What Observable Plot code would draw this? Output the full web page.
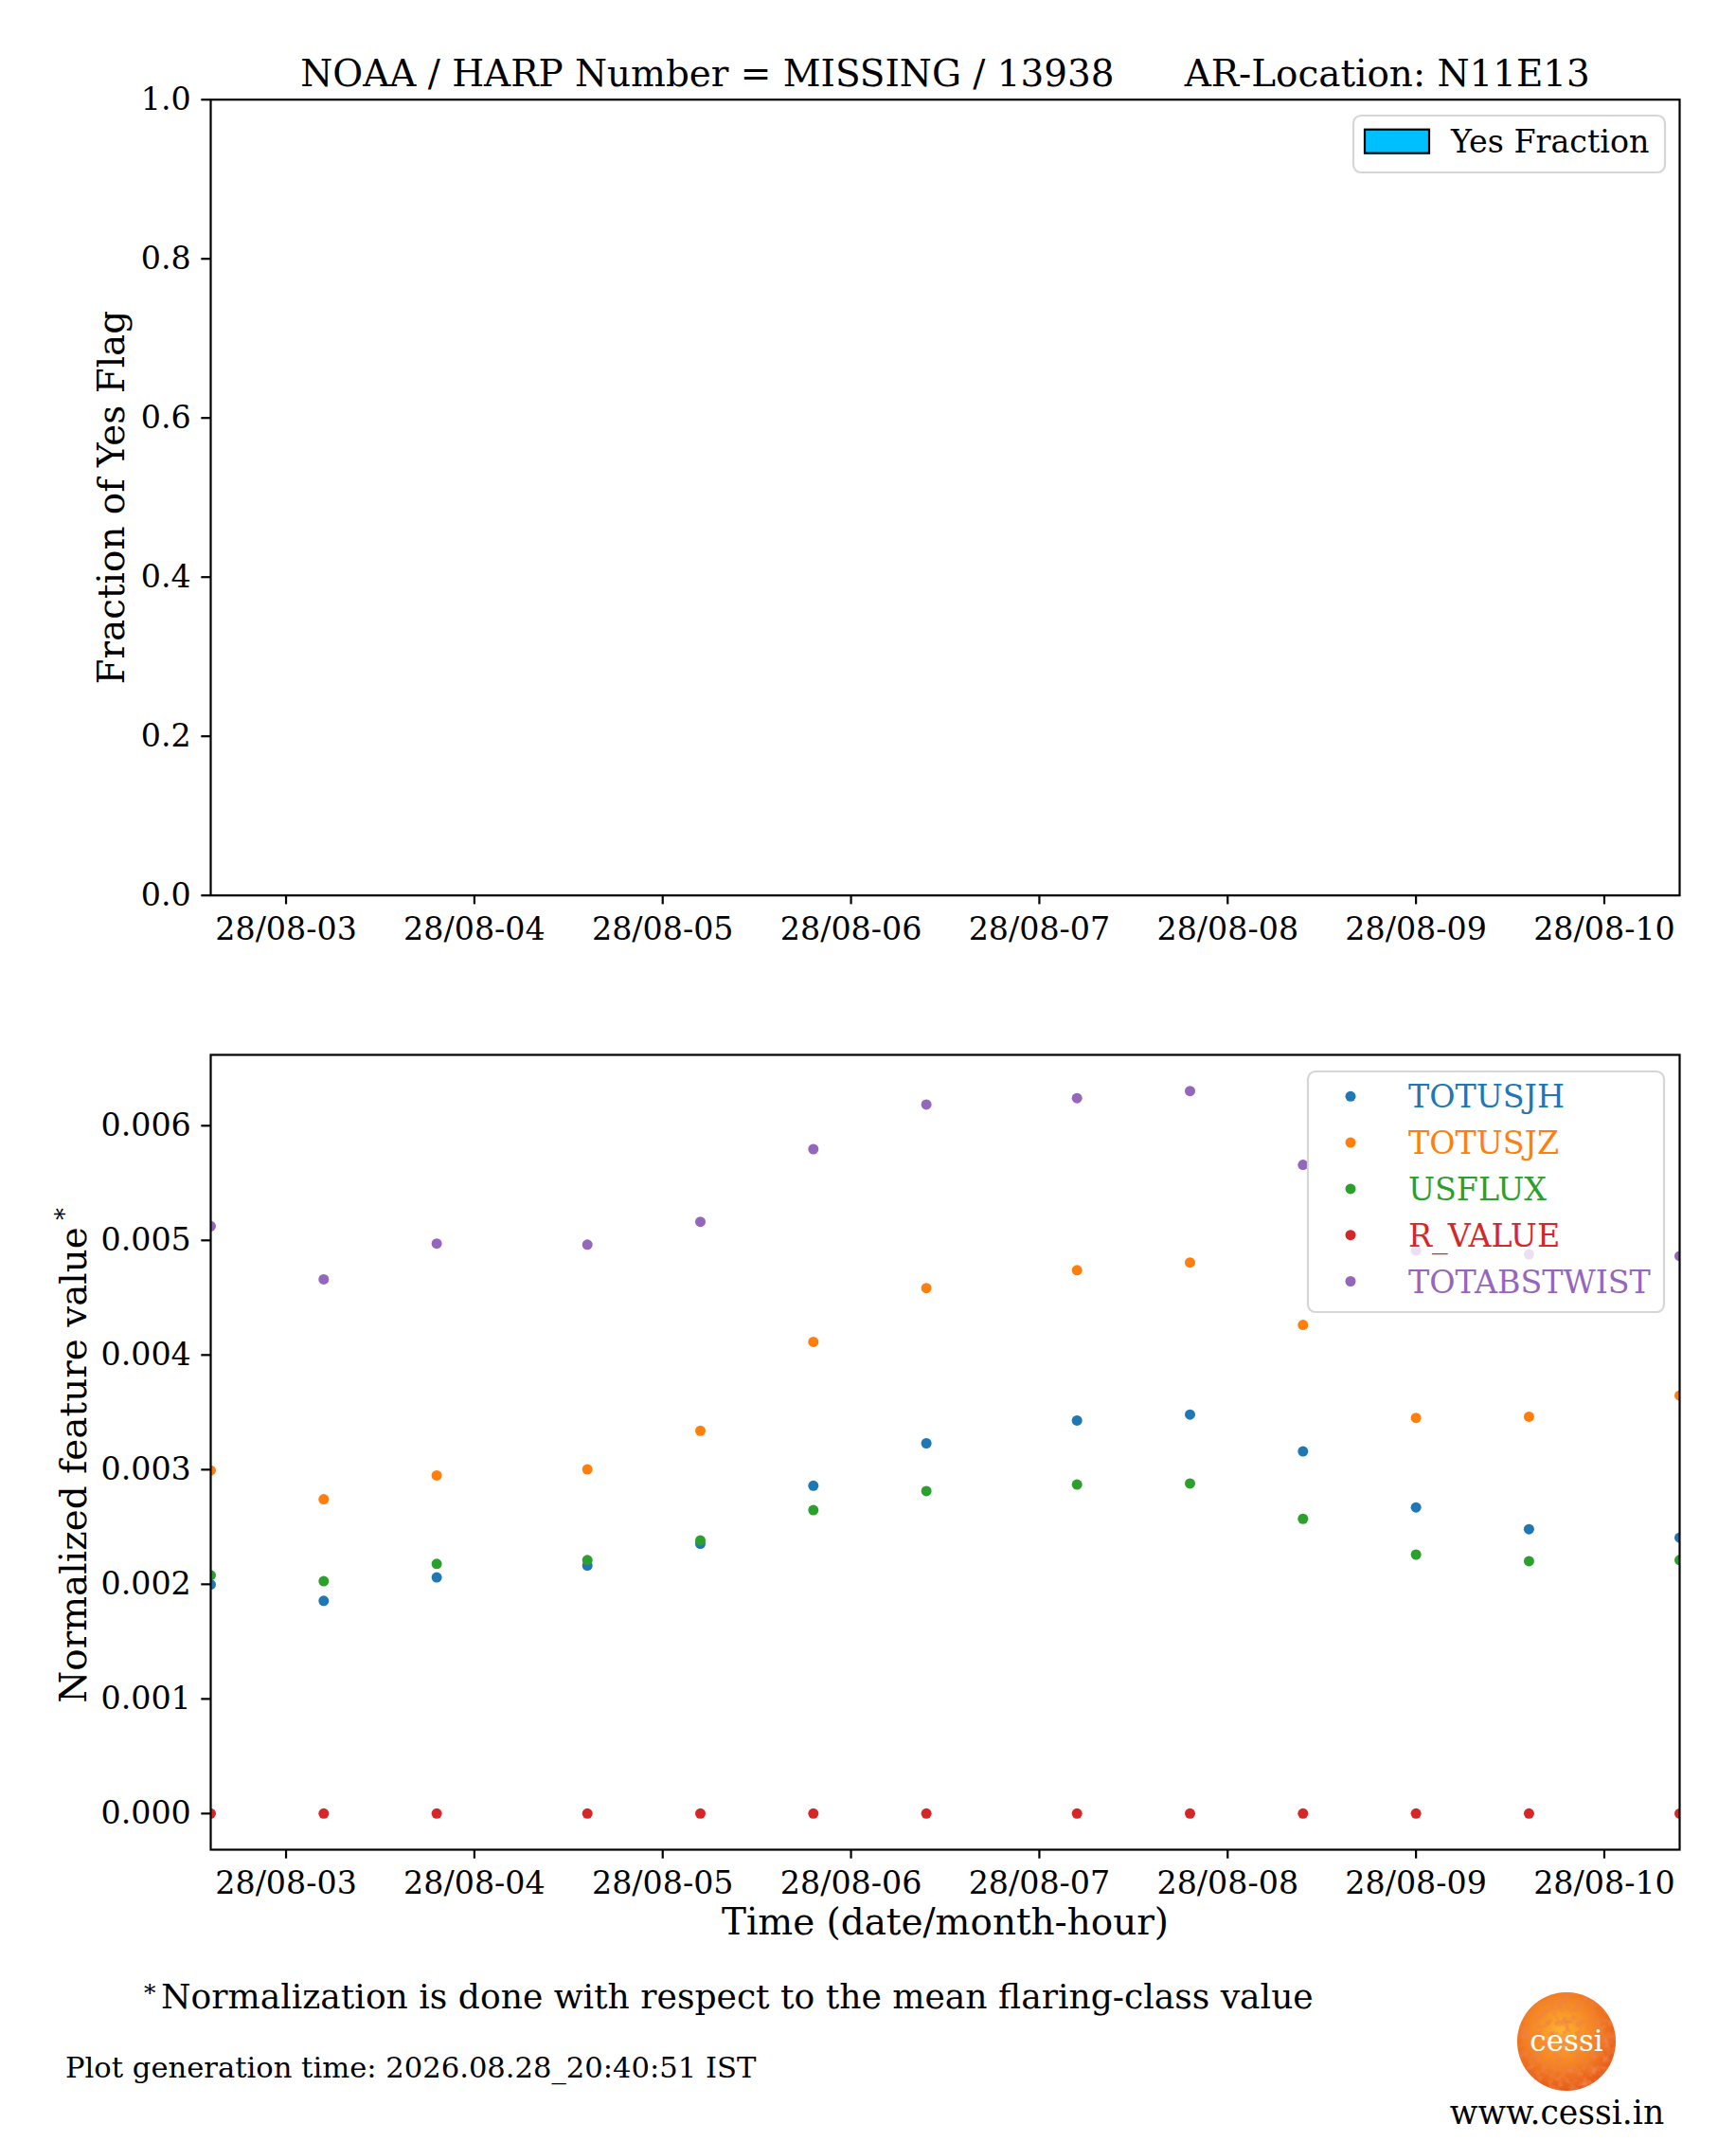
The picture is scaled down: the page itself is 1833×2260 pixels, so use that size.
<!DOCTYPE html>
<html><head><meta charset="utf-8">
<script src="https://cdn.jsdelivr.net/npm/d3@7"></script>
<script src="https://cdn.jsdelivr.net/npm/@observablehq/plot@0.6"></script>
<style>
html,body{margin:0;padding:0;background:#fff;}
#root{position:relative;width:1833px;height:2260px;background:#fff;font-family:"DejaVu Serif",serif;overflow:hidden}
#root > *{position:absolute;}
</style></head><body><div id="root"></div>
<script>
// ---------- data ----------
const times = ["2026-08-28T02:36:00Z","2026-08-28T03:12:00Z","2026-08-28T03:48:00Z","2026-08-28T04:36:00Z",
  "2026-08-28T05:12:00Z","2026-08-28T05:48:00Z","2026-08-28T06:24:00Z","2026-08-28T07:12:00Z",
  "2026-08-28T07:48:00Z","2026-08-28T08:24:00Z","2026-08-28T09:00:00Z","2026-08-28T09:36:00Z","2026-08-28T10:24:00Z"];
const seriesNames = ["TOTUSJH","TOTUSJZ","USFLUX","R_VALUE","TOTABSTWIST"];
const seriesColors = ["#1f77b4","#ff7f0e","#2ca02c","#d62728","#9467bd"];
const TOTUSJH     = [0.001998,0.001856,0.002060,0.002164,0.002354,0.002860,0.003230,0.003429,0.003481,0.003159,0.002671,0.002481,0.002406];
const TOTUSJZ     = [0.002993,0.002742,0.002950,0.003002,0.003339,0.004115,0.004584,0.004740,0.004807,0.004262,0.003452,0.003462,0.003646];
const USFLUX      = [0.002079,0.002027,0.002178,0.002211,0.002382,0.002647,0.002813,0.002870,0.002879,0.002571,0.002259,0.002202,0.002211];
const R_VALUE     = [0,0,0,0,0,0,0,0,0,0,0,0,0];
const TOTABSTWIST = [0.005124,0.004660,0.004972,0.004963,0.005162,0.005796,0.006185,0.006241,0.006303,0.005659,0.004911,0.004878,0.004863];
const yesFraction = []; // no Yes-flag bars in this window
const xTicks = ["2026-08-28T03:00:00Z","2026-08-28T04:00:00Z","2026-08-28T05:00:00Z","2026-08-28T06:00:00Z",
  "2026-08-28T07:00:00Z","2026-08-28T08:00:00Z","2026-08-28T09:00:00Z","2026-08-28T10:00:00Z"];
const yTicksTop = [0,0.2,0.4,0.6,0.8,1.0];
const yTicksBottom = [0,0.001,0.002,0.003,0.004,0.005,0.006];
const titleText = "NOAA / HARP Number = MISSING / 13938\u00a0\u00a0\u00a0\u00a0\u00a0\u00a0AR-Location: N11E13";
const footnoteText = "Normalization is done with respect to the mean flaring-class value";
const genTimeText = "Plot generation time: 2026.08.28_20:40:51 IST";

// ---------- build ----------
const seriesValues = [TOTUSJH, TOTUSJZ, USFLUX, R_VALUE, TOTABSTWIST];
const T = times.map(s => new Date(s));
const rows = [];
seriesNames.forEach((name, k) => seriesValues[k].forEach((v, i) => rows.push({time: T[i], value: v, series: name})));
const xDomain = d3.extent(T);
const ymax = d3.max(rows, d => d.value);
const yDomainBottom = [-0.05 * ymax, 1.05 * ymax];
const tickDates = xTicks.map(s => new Date(s));
const fmtX = d3.utcFormat("%d/%m-%H");
const FONT = "DejaVu Serif";
const TICK = 33.3, LABEL = 38.9;
const root = document.getElementById("root");

function axes(yTicks, yFmt) {
  return [
    Plot.axisX({ticks: tickDates, tickFormat: fmtX, tickSize: 9.7, tickPadding: 13, fontSize: TICK, strokeWidth: 2.2, label: null}),
    Plot.axisY({ticks: yTicks, tickFormat: yFmt, tickSize: 9.7, tickPadding: 11, fontSize: TICK, strokeWidth: 2.2, label: null}),
    Plot.frame({stroke: "black", strokeWidth: 2.2})
  ];
}

// Top panel
const p1 = Plot.plot({
  width: 1833, height: 1040,
  marginLeft: 222, marginRight: 60, marginTop: 104.7, marginBottom: 95.3,
  style: {fontFamily: FONT, color: "black", background: "white", overflow: "visible"},
  x: {type: "utc", domain: xDomain},
  y: {domain: [0, 1]},
  marks: [
    Plot.rectY(yesFraction, {x1: "t1", x2: "t2", y: "frac", fill: "#00bfff", stroke: "black"}),
    ...axes(yTicksTop, d3.format(".1f")),
    Plot.text([titleText], {text: d => d, frameAnchor: "top", dy: -14.7, lineAnchor: "bottom", textAnchor: "middle", fontSize: LABEL}),
    Plot.text(["Fraction of Yes Flag"], {text: d => d, frameAnchor: "left", dx: -91.3, rotate: -90, lineAnchor: "bottom", textAnchor: "middle", fontSize: LABEL})
  ]
});
p1.style.left = "0px"; p1.style.top = "0px";
root.appendChild(p1);

// Bottom panel
const p2 = Plot.plot({
  width: 1833, height: 1020,
  marginLeft: 222, marginRight: 60, marginTop: 73, marginBottom: 108,
  style: {fontFamily: FONT, color: "black", background: "white", overflow: "visible"},
  x: {type: "utc", domain: xDomain},
  y: {domain: yDomainBottom},
  color: {domain: seriesNames, range: seriesColors},
  marks: [
    Plot.dot(rows, {x: "time", y: "value", fill: "series", r: 5.5, clip: true}),
    ...axes(yTicksBottom, d3.format(".3f")),
    Plot.text(["Time (date/month-hour)"], {text: d => d, frameAnchor: "bottom", dy: 89.7, lineAnchor: "bottom", textAnchor: "middle", fontSize: LABEL}),
    Plot.text(["Normalized feature value"], {text: d => d, frameAnchor: "left", dx: -132, dy: 13.5, rotate: -90, lineAnchor: "bottom", textAnchor: "middle", fontSize: LABEL}),
    Plot.text(["*"], {text: d => d, frameAnchor: "left", dx: -146, dy: -251.5, rotate: -90, lineAnchor: "bottom", textAnchor: "middle", fontSize: 26})
  ]
});
p2.style.left = "0px"; p2.style.top = "1040px";
root.appendChild(p2);

// Legends
function legendBox(left, top, w, h) {
  const svg = d3.create("svg").attr("width", w + 4).attr("height", h + 4)
    .style("left", (left - 2) + "px").style("top", (top - 2) + "px").style("font-family", FONT);
  svg.append("rect").attr("x", 2).attr("y", 2).attr("width", w).attr("height", h).attr("rx", 8)
    .attr("fill", "rgba(255,255,255,0.8)").attr("stroke", "#d6d6d6").attr("stroke-width", 2.2);
  return svg;
}
const lg1 = legendBox(1429, 122, 329, 60);
lg1.append("rect").attr("x", 14).attr("y", 16.7).attr("width", 68).attr("height", 25)
  .attr("fill", "#00bfff").attr("stroke", "black").attr("stroke-width", 2.2);
lg1.append("text").attr("x", 105).attr("y", 41).attr("font-size", TICK).attr("fill", "black").text("Yes Fraction");
root.appendChild(lg1.node());

const lg2 = legendBox(1381, 1131, 376, 254);
seriesNames.forEach((name, k) => {
  const cy = 2 + 26.3 + k * 48.8;
  lg2.append("circle").attr("cx", 2 + 45).attr("cy", cy).attr("r", 5.5).attr("fill", seriesColors[k]);
  lg2.append("text").attr("x", 2 + 106).attr("y", cy + 12).attr("font-size", TICK).attr("fill", seriesColors[k]).text(name);
});
root.appendChild(lg2.node());

// Footer
const ft = d3.create("svg").attr("width", 1833).attr("height", 200)
  .style("left", "0px").style("top", "2060px").style("font-family", FONT);
ft.append("text").attr("x", 152).attr("y", 52).attr("font-size", 25).attr("fill", "black").text("*");
ft.append("text").attr("x", 170).attr("y", 60).attr("font-size", 36.1).attr("fill", "black").text(footnoteText);
ft.append("text").attr("x", 69).attr("y", 132.7).attr("font-size", 30.6).attr("fill", "black").text(genTimeText);
const defs = ft.append("defs");
const rg = defs.append("radialGradient").attr("id", "sun").attr("cx", "45%").attr("cy", "40%").attr("r", "60%");
rg.append("stop").attr("offset", "0%").attr("stop-color", "#ffb330");
rg.append("stop").attr("offset", "55%").attr("stop-color", "#f5861e");
rg.append("stop").attr("offset", "100%").attr("stop-color", "#e65a1a");
const flt = defs.append("filter").attr("id", "mottle").attr("x", "0").attr("y", "0").attr("width", "100%").attr("height", "100%");
flt.append("feTurbulence").attr("type", "fractalNoise").attr("baseFrequency", "0.14").attr("numOctaves", 3).attr("seed", 7).attr("result", "n");
flt.append("feColorMatrix").attr("in", "n").attr("type", "matrix")
  .attr("values", "0 0 0 0 0.86  0 0 0 0 0.22  0 0 0 0 0.06  2.2 0 0 0 -0.85").attr("result", "c");
flt.append("feComposite").attr("in", "c").attr("in2", "SourceGraphic").attr("operator", "in");
ft.append("circle").attr("cx", 1654).attr("cy", 95).attr("r", 52).attr("fill", "url(#sun)");
ft.append("circle").attr("cx", 1654).attr("cy", 95).attr("r", 52).attr("fill", "white").attr("filter", "url(#mottle)");
ft.append("text").attr("x", 1654).attr("y", 105).attr("font-size", 31).attr("fill", "white").attr("text-anchor", "middle").text("cessi");
ft.append("text").attr("x", 1644).attr("y", 182).attr("font-size", 34.6).attr("fill", "black").attr("text-anchor", "middle").text("www.cessi.in");
root.appendChild(ft.node());
</script></body></html>
